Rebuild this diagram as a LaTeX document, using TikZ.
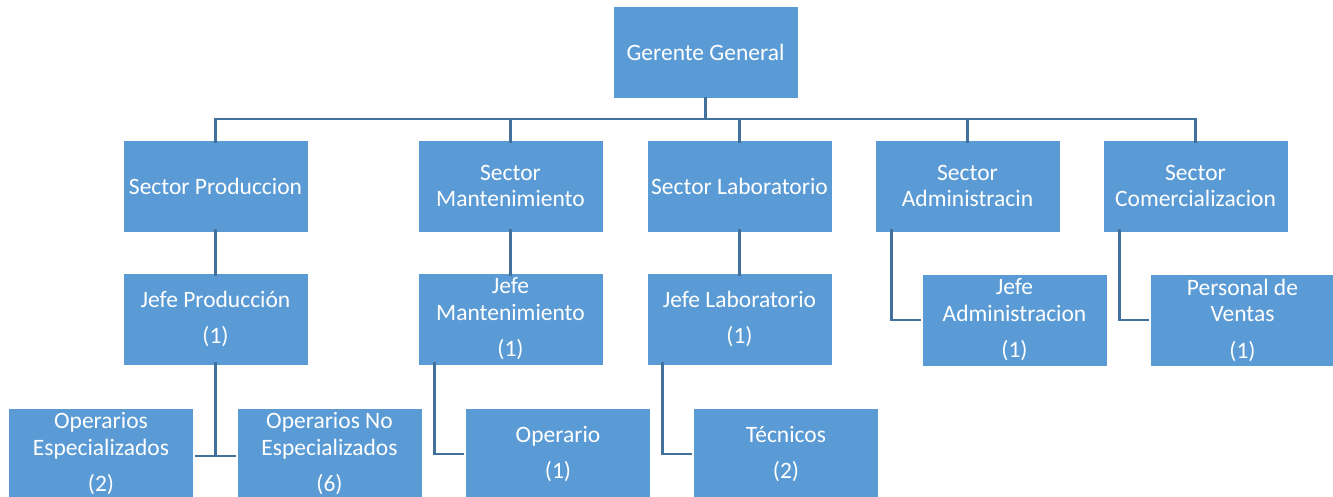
\documentclass[tikz,border=0pt]{standalone}
\usepackage{fontspec}
\setmainfont{Carlito}
\definecolor{boxblue}{HTML}{5B9BD5}
\definecolor{linkblue}{HTML}{41719C}
\begin{document}
\begin{tikzpicture}[x=1pt,y=-1pt,
  unit/.style={rectangle, fill=boxblue, draw=white, line width=0.6pt,
    minimum width=185pt, minimum height=92pt, inner sep=1pt,
    text=white, align=center, font=\fontsize{23.5}{26.5}\selectfont},
  conn/.style={draw=linkblue, line width=2.6pt}]
\useasboundingbox (0,0) rectangle (1333,497);
\clip (0,0) rectangle (1333,497);

% top level
\node[unit] (g) at (705.5,52.5) {Gerente General};

% sectors
\node[unit] (sp) at (215.5,186) {Sector Produccion};
\node[unit] (sm) at (510.5,186) {Sector\\Mantenimiento};
\node[unit] (sl) at (739.5,186) {Sector Laboratorio};
\node[unit] (sa) at (967.5,186) {Sector\\Administracin};
\node[unit] (sc) at (1195.5,186) {Sector\\Comercializacion};

% heads of each sector
\node[unit] (jp) at (215.5,319) {Jefe Producción\\[10pt](1)};
\node[unit] (jm) at (510.5,319) {Jefe\\Mantenimiento\\[10pt](1)};
\node[unit] (jl) at (739.5,319) {Jefe Laboratorio\\[10pt](1)};
\node[unit] (ja) at (1014.5,320) {Jefe\\Administracion\\[10pt](1)};
\node[unit] (jv) at (1242.5,320) {Personal de\\Ventas\\[10pt](1)};

% staff
\node[unit] (oe) at (101,454) {Operarios\\Especializados\\[10pt](2)};
\node[unit] (one) at (329.5,454) {Operarios No\\Especializados\\[10pt](6)};
\node[unit] (op) at (558,454) {Operario\\[10pt](1)};
\node[unit] (tc) at (786,454) {Técnicos\\[10pt](2)};

% connectors
\coordinate (bus) at (705.5,119);
\foreach \s in {sp,sm,sl,sa,sc}
  \draw[conn] ([yshift=2pt]g.south) -- (g.south |- bus) -| ([yshift=-3pt]\s.north);

\foreach \a/\b in {sp/jp,sm/jm,sl/jl}
  \draw[conn] ([yshift=3pt]\a.south) -- ([yshift=-3pt]\b.north);

\draw[conn] ([xshift=17pt,yshift=3pt]sa.south west) |- ([xshift=-1pt]ja.west);
\draw[conn] ([xshift=17pt,yshift=3pt]sc.south west) |- ([xshift=-1pt]jv.west);

\draw[conn] ([yshift=3pt]jp.south) |- ([xshift=1pt,yshift=-2pt]oe.east);
\draw[conn] ([yshift=3pt]jp.south) |- ([xshift=-1pt,yshift=-2pt]one.west);

\draw[conn] ([xshift=17pt,yshift=3pt]jm.south west) |- ([xshift=-1pt]op.west);
\draw[conn] ([xshift=16pt,yshift=3pt]jl.south west) |- ([xshift=-1pt]tc.west);
\end{tikzpicture}
\end{document}
